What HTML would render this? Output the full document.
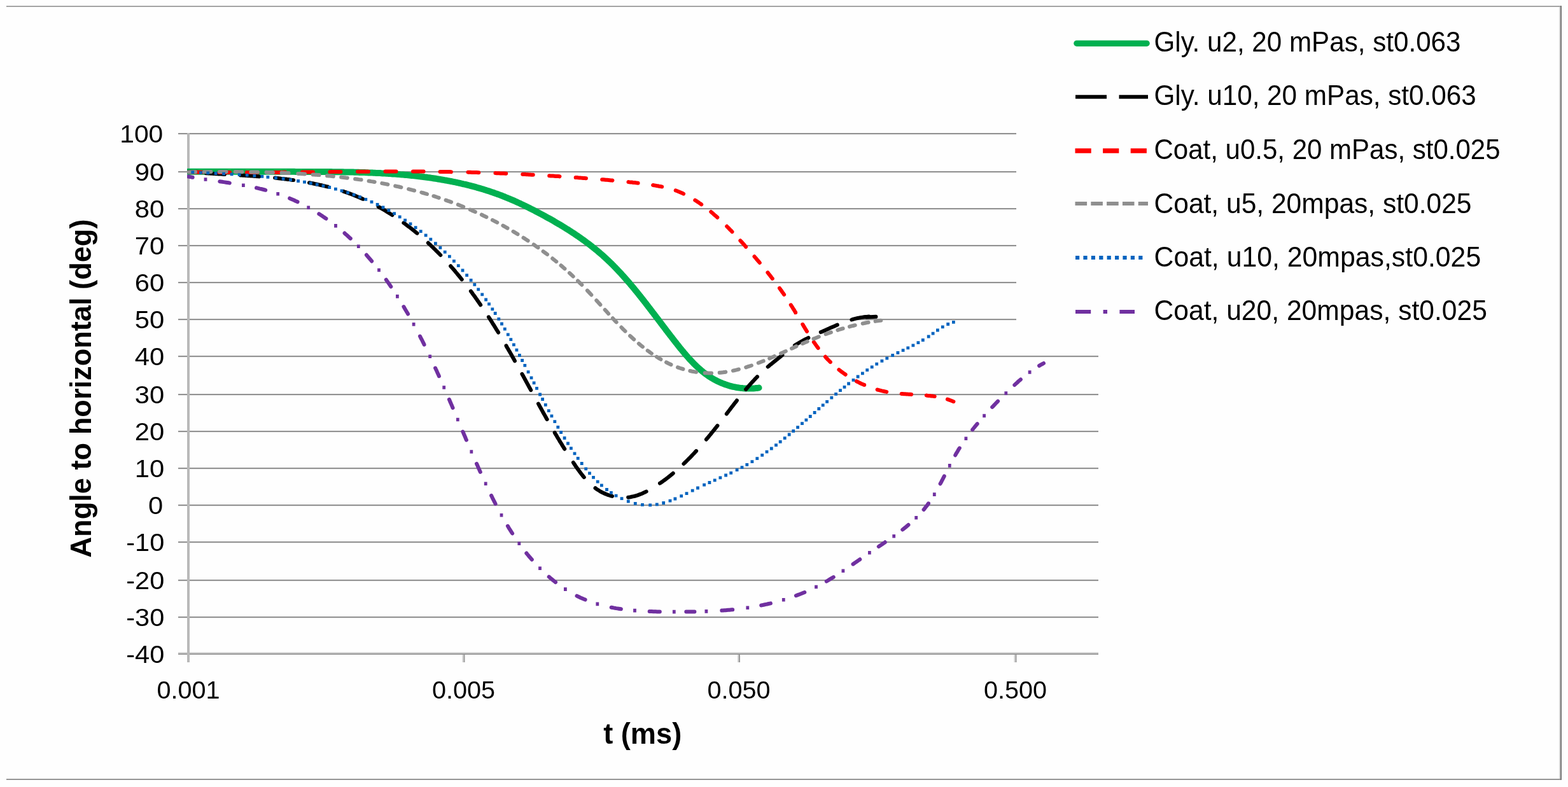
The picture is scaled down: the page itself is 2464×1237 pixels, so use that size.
<!DOCTYPE html><html><head><meta charset="utf-8"><title>Angle to horizontal vs t</title>
<style>html,body{margin:0;padding:0;background:#fff;overflow:hidden;}svg{display:block;}#w{width:2464px;height:1237px;}text{font-family:"Liberation Sans",Arial,sans-serif;fill:#000;}</style></head><body>
<div id="w"><svg width="2464" height="1237" viewBox="0 0 2464 1237">
<rect x="0" y="0" width="2464" height="1237" fill="#fefefe"/>
<rect x="10" y="9" width="2444" height="2" fill="#a3a3a3"/>
<rect x="10" y="1224" width="2444" height="2" fill="#959595"/>
<rect x="2450" y="11" width="2" height="1213" fill="#d4d4d4"/>
<rect x="2452" y="9" width="2" height="1217" fill="#777"/>
<rect x="280" y="209" width="1446" height="2" fill="#929292"/><rect x="280" y="211" width="1446" height="1" fill="#ececec"/><rect x="280" y="269" width="1446" height="2" fill="#929292"/><rect x="280" y="271" width="1446" height="1" fill="#ececec"/><rect x="280" y="327" width="1446" height="2" fill="#929292"/><rect x="280" y="329" width="1446" height="1" fill="#ececec"/><rect x="280" y="385" width="1446" height="2" fill="#929292"/><rect x="280" y="387" width="1446" height="1" fill="#ececec"/><rect x="280" y="443" width="1446" height="2" fill="#929292"/><rect x="280" y="445" width="1446" height="1" fill="#ececec"/><rect x="280" y="501" width="1446" height="2" fill="#929292"/><rect x="280" y="503" width="1446" height="1" fill="#ececec"/><rect x="280" y="559" width="1446" height="2" fill="#929292"/><rect x="280" y="561" width="1446" height="1" fill="#ececec"/><rect x="280" y="619" width="1446" height="2" fill="#929292"/><rect x="280" y="621" width="1446" height="1" fill="#ececec"/><rect x="280" y="677" width="1446" height="2" fill="#929292"/><rect x="280" y="679" width="1446" height="1" fill="#ececec"/><rect x="280" y="735" width="1446" height="2" fill="#929292"/><rect x="280" y="737" width="1446" height="1" fill="#ececec"/><rect x="280" y="793" width="1446" height="2" fill="#929292"/><rect x="280" y="795" width="1446" height="1" fill="#ececec"/><rect x="280" y="851" width="1446" height="2" fill="#929292"/><rect x="280" y="853" width="1446" height="1" fill="#ececec"/><rect x="280" y="911" width="1446" height="2" fill="#929292"/><rect x="280" y="913" width="1446" height="1" fill="#ececec"/><rect x="280" y="969" width="1446" height="2" fill="#929292"/><rect x="280" y="971" width="1446" height="1" fill="#ececec"/>
<rect x="280" y="1025" width="1446" height="2" fill="#d6d6d6"/>
<rect x="280" y="1027" width="1446" height="2" fill="#979797"/>
<rect x="726.5" y="1029" width="2" height="12" fill="#d0d0d0"/>
<rect x="728.5" y="1029" width="2" height="12" fill="#9a9a9a"/>
<rect x="1159.0" y="1029" width="2" height="12" fill="#d0d0d0"/>
<rect x="1161.0" y="1029" width="2" height="12" fill="#9a9a9a"/>
<rect x="1593.5" y="1029" width="2" height="12" fill="#d0d0d0"/>
<rect x="1595.5" y="1029" width="2" height="12" fill="#9a9a9a"/>
<rect x="294" y="209" width="4" height="832" fill="#b9b9b9"/>
<defs><clipPath id="pa"><rect x="294" y="150" width="1440" height="900"/></clipPath></defs><g clip-path="url(#pa)">
<path d="M296.00,269.7 L298.01,269.7 300.02,269.7 302.03,269.7 304.04,269.7 306.04,269.7 308.05,269.7 310.06,269.7 312.07,269.7 314.08,269.8 316.09,269.8 318.09,269.8 320.10,269.8 322.11,269.8 324.12,269.8 326.13,269.8 328.13,269.8 330.14,269.8 332.15,269.8 334.16,269.8 336.16,269.8 338.17,269.8 340.18,269.8 342.19,269.8 344.19,269.8 346.20,269.8 348.21,269.8 350.21,269.8 352.22,269.8 354.23,269.8 356.24,269.8 358.24,269.8 360.25,269.8 362.26,269.8 364.26,269.8 366.27,269.8 368.28,269.8 370.28,269.8 372.29,269.8 374.30,269.8 376.30,269.8 378.31,269.8 380.32,269.8 382.32,269.8 384.33,269.8 386.34,269.8 388.34,269.8 390.35,269.8 392.36,269.8 394.36,269.8 396.37,269.8 398.38,269.8 400.38,269.8 402.39,269.8 404.40,269.8 406.40,269.8 408.41,269.8 410.41,269.8 412.42,269.8 414.43,269.8 416.43,269.8 418.44,269.8 420.45,269.8 422.45,269.8 424.46,269.8 426.47,269.8 428.47,269.8 430.48,269.8 432.49,269.8 434.49,269.8 436.50,269.8 438.51,269.8 440.51,269.8 442.52,269.8 444.53,269.8 446.53,269.8 448.54,269.8 450.55,269.8 452.55,269.8 454.56,269.8 456.57,269.8 458.57,269.8 460.58,269.8 462.59,269.8 464.60,269.9 466.60,269.9 468.61,269.9 470.62,269.9 472.62,269.9 474.63,269.9 476.64,269.9 478.65,269.9 480.65,269.9 482.66,269.9 484.67,269.9 486.68,269.9 488.68,269.9 490.69,269.9 492.70,269.9 494.71,270.0 496.72,270.0 498.72,270.0 500.73,270.0 502.74,270.0 504.75,270.0 506.76,270.0 508.76,270.0 510.77,270.1 512.78,270.1 514.79,270.1 516.80,270.1 518.81,270.1 520.82,270.1 522.82,270.2 524.83,270.2 526.84,270.2 528.85,270.2 530.86,270.2 532.87,270.3 534.87,270.3 536.88,270.3 538.89,270.3 540.90,270.4 542.91,270.4 544.92,270.4 546.92,270.5 548.93,270.5 550.94,270.6 552.95,270.6 554.95,270.6 556.96,270.7 558.97,270.7 560.98,270.8 562.98,270.8 564.99,270.9 567.00,271.0 569.00,271.0 571.01,271.1 573.02,271.1 575.02,271.2 577.03,271.3 579.04,271.4 581.04,271.4 583.05,271.5 585.05,271.6 587.06,271.7 589.06,271.8 591.07,271.9 593.07,271.9 595.07,272.0 597.08,272.1 599.08,272.3 601.09,272.4 603.09,272.5 605.09,272.6 607.09,272.7 609.10,272.8 611.10,273.0 613.10,273.1 615.10,273.2 617.10,273.4 619.10,273.5 621.10,273.6 623.10,273.8 625.10,273.9 627.10,274.1 629.10,274.3 631.10,274.4 633.10,274.6 635.10,274.8 637.09,275.0 639.09,275.1 641.09,275.3 643.08,275.5 645.08,275.7 647.08,275.9 649.07,276.1 651.07,276.4 653.06,276.6 655.05,276.8 657.05,277.0 659.04,277.3 661.03,277.5 663.02,277.8 665.02,278.0 667.01,278.3 669.00,278.5 670.99,278.8 672.98,279.1 674.97,279.3 676.95,279.6 678.94,279.9 680.93,280.2 682.92,280.5 684.90,280.8 686.89,281.1 688.87,281.5 690.86,281.8 692.84,282.1 694.83,282.5 696.81,282.8 698.79,283.2 700.77,283.5 702.75,283.9 704.73,284.3 706.70,284.6 708.68,285.0 710.66,285.4 712.63,285.8 714.60,286.2 716.57,286.6 718.54,287.0 720.51,287.5 722.47,287.9 724.44,288.4 726.40,288.8 728.36,289.3 730.32,289.7 732.27,290.2 734.22,290.7 736.18,291.2 738.13,291.6 740.07,292.1 742.02,292.7 743.96,293.2 745.90,293.7 747.84,294.2 749.77,294.8 751.70,295.3 753.63,295.9 755.56,296.4 757.48,297.0 759.40,297.6 761.32,298.2 763.23,298.8 765.14,299.4 767.05,300.0 768.95,300.6 770.85,301.3 772.75,301.9 774.64,302.5 776.53,303.2 778.42,303.9 780.30,304.5 782.18,305.2 784.05,305.9 785.92,306.6 787.79,307.3 789.65,308.0 791.51,308.8 793.37,309.5 795.22,310.3 797.06,311.0 798.91,311.8 800.75,312.5 802.58,313.3 804.42,314.1 806.25,314.9 808.07,315.7 809.90,316.5 811.72,317.3 813.54,318.2 815.35,319.0 817.16,319.8 818.97,320.7 820.78,321.5 822.58,322.4 824.38,323.3 826.18,324.1 827.98,325.0 829.78,325.9 831.57,326.8 833.36,327.7 835.15,328.6 836.93,329.5 838.72,330.4 840.50,331.3 842.28,332.3 844.07,333.2 845.84,334.1 847.62,335.1 849.40,336.0 851.17,337.0 852.95,337.9 854.72,338.9 856.49,339.8 858.26,340.8 860.02,341.8 861.79,342.8 863.55,343.7 865.31,344.7 867.07,345.7 868.83,346.7 870.58,347.7 872.33,348.8 874.08,349.8 875.83,350.8 877.57,351.8 879.31,352.8 881.04,353.9 882.78,354.9 884.50,356.0 886.23,357.0 887.95,358.1 889.67,359.2 891.38,360.2 893.09,361.3 894.79,362.4 896.49,363.5 898.19,364.6 899.88,365.7 901.57,366.8 903.25,367.9 904.92,369.1 906.59,370.2 908.26,371.3 909.92,372.5 911.57,373.6 913.22,374.8 914.86,376.0 916.50,377.1 918.13,378.3 919.75,379.5 921.37,380.7 922.98,381.9 924.59,383.1 926.19,384.3 927.78,385.5 929.36,386.8 930.94,388.0 932.51,389.3 934.07,390.5 935.62,391.8 937.17,393.0 938.71,394.3 940.24,395.6 941.76,396.9 943.28,398.2 944.78,399.5 946.28,400.8 947.77,402.1 949.25,403.5 950.73,404.8 952.19,406.2 953.65,407.5 955.10,408.9 956.54,410.3 957.98,411.6 959.41,413.0 960.83,414.4 962.24,415.8 963.65,417.2 965.05,418.7 966.44,420.1 967.83,421.5 969.21,422.9 970.58,424.4 971.95,425.8 973.31,427.3 974.67,428.7 976.02,430.2 977.36,431.7 978.70,433.1 980.03,434.6 981.36,436.1 982.68,437.6 984.00,439.1 985.31,440.6 986.62,442.1 987.93,443.6 989.22,445.1 990.52,446.7 991.81,448.2 993.09,449.7 994.38,451.2 995.65,452.8 996.93,454.3 998.20,455.9 999.47,457.4 1000.73,459.0 1001.99,460.5 1003.25,462.1 1004.50,463.7 1005.75,465.2 1007.00,466.8 1008.25,468.4 1009.49,470.0 1010.73,471.5 1011.97,473.1 1013.21,474.7 1014.44,476.3 1015.67,477.9 1016.91,479.5 1018.14,481.1 1019.36,482.7 1020.59,484.3 1021.81,485.9 1023.04,487.5 1024.26,489.1 1025.48,490.7 1026.70,492.3 1027.93,493.9 1029.15,495.5 1030.37,497.1 1031.58,498.7 1032.80,500.3 1034.02,501.9 1035.24,503.5 1036.46,505.2 1037.68,506.8 1038.90,508.4 1040.12,510.0 1041.35,511.6 1042.57,513.2 1043.79,514.8 1045.02,516.4 1046.25,518.1 1047.47,519.7 1048.70,521.3 1049.93,522.9 1051.17,524.5 1052.40,526.1 1053.64,527.7 1054.88,529.3 1056.12,530.9 1057.36,532.5 1058.61,534.1 1059.85,535.7 1061.11,537.3 1062.36,538.9 1063.62,540.5 1064.88,542.1 1066.14,543.7 1067.41,545.3 1068.68,546.9 1069.96,548.4 1071.24,550.0 1072.53,551.6 1073.82,553.1 1075.12,554.7 1076.42,556.2 1077.74,557.8 1079.06,559.3 1080.39,560.8 1081.72,562.3 1083.07,563.8 1084.42,565.3 1085.78,566.7 1087.16,568.2 1088.54,569.6 1089.94,571.1 1091.34,572.5 1092.76,573.9 1094.18,575.3 1095.63,576.6 1097.08,578.0 1098.54,579.3 1100.02,580.6 1101.52,581.9 1103.02,583.1 1104.54,584.4 1106.08,585.6 1107.63,586.8 1109.20,588.0 1110.78,589.1 1112.38,590.3 1114.00,591.4 1115.63,592.4 1117.29,593.5 1118.96,594.5 1120.64,595.5 1122.35,596.5 1124.08,597.4 1125.82,598.3 1127.58,599.2 1129.36,600.0 1131.16,600.9 1132.97,601.6 1134.80,602.4 1136.64,603.1 1138.50,603.8 1140.37,604.5 1142.26,605.1 1144.16,605.7 1146.07,606.3 1147.99,606.8 1149.93,607.3 1151.88,607.8 1153.84,608.2 1155.81,608.6 1157.79,609.0 1159.78,609.3 1161.77,609.6 1163.78,609.9 1165.79,610.1 1167.82,610.3 1169.85,610.4 1171.88,610.5 1173.93,610.6 1175.97,610.6 1178.03,610.6 1180.09,610.6 1182.15,610.5 1184.21,610.4 1186.28,610.3 1188.36,610.1 1190.43,609.9 1192.51,609.6" fill="none" stroke="#00b050" stroke-width="10" stroke-linecap="round" stroke-linejoin="round"/>
<path d="M296.0,270.2 L297.5,270.3 L298.7,270.4 M323.6,272.2 L325.4,272.3 L327.4,272.4 L329.3,272.6 L331.3,272.7 L333.3,272.8 L335.3,272.9 L337.3,273.1 L339.3,273.2 L341.3,273.3 L343.3,273.4 L345.3,273.5 L347.3,273.6 L349.3,273.7 L351.3,273.9 L352.9,274.0 M377.9,275.4 L379.9,275.5 L381.9,275.7 L383.9,275.8 L385.9,275.9 L387.9,276.0 L389.9,276.2 L392.0,276.3 L394.0,276.5 L396.0,276.6 L398.0,276.7 L400.0,276.9 L402.0,277.0 L404.1,277.2 L406.1,277.3 L407.2,277.4 M432.1,279.6 L433.8,279.8 L435.8,280.0 L437.8,280.2 L439.8,280.4 L441.8,280.7 L443.8,280.9 L445.8,281.1 L447.8,281.4 L449.8,281.6 L451.8,281.9 L453.8,282.1 L455.8,282.4 L457.8,282.7 L459.8,282.9 L461.2,283.1 M485.9,287.2 L487.6,287.5 L489.6,287.9 L491.5,288.3 L493.5,288.7 L495.4,289.1 L497.4,289.5 L499.4,289.9 L501.3,290.3 L503.3,290.8 L505.2,291.2 L507.1,291.7 L509.1,292.1 L511.0,292.6 L513.0,293.1 L514.9,293.6 L515.1,293.6 M539.8,300.9 L541.6,301.5 L543.4,302.1 L545.3,302.8 L547.2,303.5 L549.1,304.1 L550.9,304.8 L552.8,305.5 L554.6,306.2 L556.5,307.0 L558.3,307.7 L560.2,308.5 L562.0,309.2 L563.8,310.0 L565.7,310.8 L567.5,311.6 L569.3,312.4 L570.3,312.8 M594.6,324.9 L596.0,325.8 L597.8,326.7 L599.5,327.7 L601.2,328.7 L603.0,329.7 L604.7,330.7 L606.4,331.8 L608.1,332.8 L609.8,333.8 L611.5,334.9 L613.2,336.0 L614.9,337.0 L616.4,338.0 M634.4,350.3 L635.6,351.2 L637.2,352.4 L638.8,353.6 L640.4,354.8 L642.0,356.0 L643.6,357.2 L645.2,358.4 L646.8,359.7 L648.4,360.9 L649.9,362.2 L651.5,363.4 L653.0,364.7 L654.6,366.0 L655.5,366.7 M672.8,381.8 L674.2,383.2 L675.7,384.5 L677.1,385.9 L678.6,387.3 L680.0,388.7 L681.4,390.1 L682.9,391.5 L684.3,392.9 L685.7,394.3 L687.1,395.7 L688.5,397.1 L689.9,398.5 L691.3,400.0 L692.3,401.0 M708.1,418.2 L709.2,419.5 L710.6,421.0 L711.9,422.5 L713.2,424.0 L714.5,425.5 L715.7,427.1 L717.0,428.6 L718.3,430.1 L719.6,431.7 L720.9,433.2 L722.1,434.8 L723.4,436.3 L724.6,437.9 L725.7,439.2 M739.9,457.7 L740.8,458.9 L742.0,460.5 L743.1,462.2 L744.3,463.8 L745.5,465.4 L746.7,467.0 L747.8,468.7 L749.0,470.3 L750.1,472.0 L751.3,473.6 L752.4,475.2 L753.6,476.9 L754.7,478.5 L755.2,479.3 M767.9,498.3 L768.9,499.8 L769.9,501.5 L771.0,503.2 L772.1,504.9 L773.2,506.6 L774.2,508.3 L775.3,510.0 L776.4,511.7 L777.4,513.4 L778.5,515.1 L779.5,516.8 L780.6,518.5 L781.6,520.2 L782.7,521.9 L783.1,522.6 M795.5,543.5 L796.4,545.2 L797.4,546.9 L798.4,548.6 L799.4,550.4 L800.4,552.1 L801.4,553.8 L802.4,555.6 L803.4,557.3 L804.4,559.0 L805.3,560.8 L806.3,562.5 L807.3,564.2 L808.3,566.0 L809.0,567.3 M820.4,587.9 L821.3,589.5 L822.3,591.2 L823.2,593.0 L824.2,594.7 L825.1,596.5 L826.1,598.2 L827.0,600.0 L828.0,601.7 L828.9,603.5 L829.9,605.2 L830.8,607.0 L831.8,608.7 L832.8,610.5 L833.7,612.2 L834.2,613.2 M846.0,634.6 L846.9,636.2 L847.8,638.0 L848.8,639.7 L849.8,641.5 L850.7,643.2 L851.7,645.0 L852.7,646.7 L853.6,648.5 L854.6,650.2 L855.6,651.9 L856.6,653.7 L857.6,655.4 L858.5,657.2 L859.5,658.9 L859.6,659.1 M871.7,680.0 L872.5,681.5 L873.5,683.2 L874.6,684.9 L875.6,686.7 L876.6,688.4 L877.7,690.1 L878.7,691.8 L879.7,693.6 L880.8,695.3 L881.8,697.0 L882.9,698.7 L883.9,700.4 L885.0,702.2 L886.1,703.9 L887.1,705.6 L887.2,705.7 M900.9,727.0 L901.9,728.6 L903.1,730.3 L904.2,732.0 L905.4,733.7 L906.5,735.3 L907.7,737.0 L908.9,738.6 L910.1,740.3 L911.3,741.9 L912.5,743.5 L913.7,745.1 L915.0,746.7 L916.2,748.3 L917.5,749.8 L917.8,750.2 M935.5,767.1 L936.7,768.1 L938.3,769.2 L940.0,770.3 L941.6,771.3 L943.3,772.3 L945.0,773.3 L946.8,774.2 L948.6,775.0 L950.4,775.9 L952.2,776.6 L954.1,777.4 L956.0,778.1 L957.9,778.7 L959.8,779.3 L961.8,779.8 L962.0,779.9 M987.1,781.7 L988.7,781.5 L990.7,781.2 L992.6,780.8 L994.5,780.4 L996.4,780.0 L998.4,779.5 L1000.3,778.9 L1002.1,778.3 L1004.0,777.6 L1005.9,776.9 L1007.7,776.2 L1009.6,775.4 L1011.4,774.6 L1013.2,773.8 L1015.0,772.9 L1015.6,772.6 M1037.0,759.6 L1038.4,758.7 L1040.1,757.5 L1041.7,756.4 L1043.3,755.2 L1045.0,754.0 L1046.6,752.8 L1048.2,751.5 L1049.8,750.3 L1051.3,749.1 L1052.9,747.8 L1054.5,746.6 L1056.0,745.3 L1057.6,744.0 L1057.7,743.9 M1074.4,729.0 L1075.7,727.7 L1077.2,726.3 L1078.6,724.9 L1080.0,723.5 L1081.4,722.1 L1082.8,720.7 L1084.2,719.3 L1085.6,717.9 L1087.0,716.4 L1088.3,715.0 L1089.7,713.5 L1091.1,712.1 L1092.4,710.6 L1093.8,709.2 L1094.1,708.8 M1109.9,690.7 L1111.1,689.2 L1112.4,687.7 L1113.7,686.2 L1114.9,684.6 L1116.2,683.1 L1117.5,681.5 L1118.7,680.0 L1120.0,678.4 L1121.2,676.9 L1122.5,675.3 L1123.7,673.7 L1125.0,672.2 L1126.2,670.6 L1127.4,669.1 M1141.8,650.5 L1142.7,649.2 L1144.0,647.6 L1145.2,646.0 L1146.4,644.5 L1147.6,642.9 L1148.8,641.3 L1150.0,639.7 L1151.3,638.1 L1152.5,636.5 L1153.7,634.9 L1154.9,633.3 L1156.2,631.8 L1157.4,630.2 L1157.9,629.5 M1172.1,612.0 L1173.1,610.8 L1174.4,609.3 L1175.7,607.8 L1177.0,606.3 L1178.3,604.8 L1179.6,603.3 L1181.0,601.8 L1182.3,600.3 L1183.7,598.9 L1185.0,597.4 L1186.4,595.9 L1187.7,594.5 L1189.1,593.1 L1190.0,592.2 M1206.7,576.5 L1208.1,575.4 L1209.6,574.1 L1211.1,572.8 L1212.7,571.6 L1214.2,570.3 L1215.7,569.1 L1217.3,567.8 L1218.8,566.6 L1220.4,565.3 L1222.0,564.1 L1223.5,562.8 L1225.0,561.6 L1226.6,560.4 L1228.1,559.1 L1229.5,558.0 M1248.9,543.0 L1250.3,542.0 L1251.9,541.0 L1253.6,540.0 L1255.3,539.0 L1257.0,538.0 L1258.7,537.0 L1260.4,536.1 L1262.2,535.1 L1263.9,534.2 L1265.7,533.3 L1267.4,532.5 L1269.2,531.6 L1270.4,531.0 M1289.8,522.1 L1291.5,521.4 L1293.4,520.5 L1295.2,519.7 L1297.0,518.9 L1298.9,518.1 L1300.7,517.2 L1302.6,516.4 L1304.4,515.6 L1306.2,514.8 L1308.1,514.0 L1309.9,513.2 L1311.8,512.4 L1313.6,511.6 L1315.5,510.8 L1315.8,510.7 M1338.4,502.5 L1340.3,501.9 L1342.2,501.4 L1344.1,500.9 L1346.0,500.4 L1347.9,500.0 L1349.9,499.6 L1351.8,499.2 L1353.8,498.9 L1355.7,498.6 L1357.7,498.3 L1359.7,498.1 L1361.7,497.9 L1363.7,497.7 L1365.4,497.6" fill="none" stroke="#000" stroke-width="6" stroke-linecap="round"/>
<path d="M1362,498.6 L1376.4,497.8" fill="none" stroke="#000" stroke-width="6" stroke-linecap="round"/>
<path d="M300.7,270.5 L302.5,270.5 L304.5,270.5 L306.5,270.6 L308.5,270.6 L310.5,270.6 L312.5,270.7 L314.5,270.7 L316.5,270.7 L317.7,270.7 M344.2,271.0 L346.0,271.0 L348.0,271.0 L350.0,271.0 L352.0,271.0 L354.0,271.1 L356.0,271.1 L358.0,271.1 L360.0,271.1 L361.2,271.1 M387.8,271.1 L389.5,271.1 L391.5,271.1 L393.5,271.1 L395.5,271.1 L397.5,271.1 L399.5,271.1 L401.5,271.1 L403.5,271.1 L404.8,271.1 M431.3,270.9 L433.0,270.9 L435.1,270.9 L437.1,270.9 L439.1,270.9 L441.1,270.9 L443.1,270.9 L445.1,270.8 L447.1,270.8 L448.3,270.8 M474.9,270.6 L476.6,270.6 L478.6,270.5 L480.6,270.5 L482.6,270.5 L484.6,270.5 L486.6,270.5 L488.6,270.5 L490.6,270.4 L491.9,270.4 M518.4,270.2 L520.2,270.1 L522.2,270.1 L524.2,270.1 L526.2,270.1 L528.2,270.1 L530.2,270.0 L532.2,270.0 L534.2,270.0 L535.4,270.0 M562.0,269.8 L563.7,269.8 L565.7,269.7 L567.7,269.7 L569.7,269.7 L571.7,269.7 L573.7,269.7 L575.7,269.7 L577.7,269.7 L579.0,269.7 M605.5,269.5 L607.3,269.5 L609.3,269.5 L611.3,269.5 L613.3,269.5 L615.3,269.5 L617.3,269.5 L619.3,269.5 L621.3,269.5 L622.5,269.5 M649.0,269.5 L650.8,269.5 L652.8,269.6 L654.8,269.6 L656.8,269.6 L658.8,269.6 L660.8,269.6 L662.8,269.6 L664.8,269.6 L665.6,269.6 M691.6,269.9 L693.3,269.9 L695.3,269.9 L697.3,270.0 L699.3,270.0 L701.3,270.0 L703.3,270.1 L705.3,270.1 L707.3,270.1 L708.8,270.2 M735.5,270.7 L737.3,270.8 L739.3,270.8 L741.3,270.9 L743.3,270.9 L745.3,271.0 L747.3,271.1 L749.3,271.1 L751.3,271.2 L752.3,271.2 M778.5,272.1 L780.3,272.2 L782.3,272.2 L784.2,272.3 L786.2,272.4 L788.2,272.5 L790.2,272.5 L792.2,272.6 L794.2,272.7 L795.2,272.8 M821.3,273.9 L823.2,274.0 L825.2,274.1 L827.2,274.2 L829.2,274.3 L831.2,274.4 L833.2,274.5 L835.2,274.7 L837.2,274.8 L837.7,274.8 M863.2,276.2 L865.1,276.4 L867.1,276.5 L869.1,276.6 L871.1,276.7 L873.1,276.9 L875.1,277.0 L877.1,277.1 L879.1,277.2 L879.4,277.3 M904.7,279.0 L906.6,279.1 L908.6,279.3 L910.6,279.4 L912.6,279.6 L914.6,279.7 L916.6,279.9 L918.6,280.0 L920.6,280.2 L920.9,280.2 M946.2,282.2 L948.1,282.3 L950.1,282.5 L952.1,282.7 L954.1,282.8 L956.1,283.0 L958.1,283.2 L960.1,283.4 L962.1,283.5 L962.4,283.6 M987.4,286.0 L989.0,286.2 L991.0,286.4 L993.0,286.6 L995.0,286.9 L997.0,287.1 L999.0,287.3 L1001.0,287.6 L1002.6,287.8 M1026.1,291.0 L1027.8,291.3 L1029.8,291.6 L1031.8,292.0 L1033.7,292.3 L1035.7,292.7 L1037.7,293.0 L1039.6,293.4 L1040.2,293.5 M1061.7,299.4 L1063.5,300.0 L1065.3,300.7 L1067.1,301.4 L1068.9,302.2 L1070.7,303.0 L1072.5,303.8 L1074.1,304.6 M1092.3,314.7 L1093.7,315.6 L1095.3,316.6 L1097.0,317.7 L1098.6,318.9 L1100.3,320.0 L1101.9,321.1 L1102.2,321.4 M1117.3,333.0 L1118.8,334.3 L1120.3,335.6 L1121.8,336.9 L1123.3,338.2 L1124.8,339.5 L1126.3,340.8 L1127.3,341.7 M1142.2,355.8 L1143.4,357.0 L1144.8,358.4 L1146.2,359.9 L1147.6,361.3 L1149.0,362.7 L1150.4,364.2 L1150.5,364.3 M1163.4,378.2 L1164.7,379.6 L1166.1,381.1 L1167.4,382.6 L1168.8,384.1 L1170.1,385.6 L1171.4,387.1 L1172.1,387.9 M1185.5,403.3 L1186.5,404.4 L1187.8,405.9 L1189.1,407.5 L1190.4,409.0 L1191.7,410.5 L1193.0,412.0 L1193.8,413.0 M1206.4,428.4 L1207.4,429.7 L1208.7,431.3 L1209.9,432.8 L1211.1,434.4 L1212.3,436.0 L1213.5,437.5 L1213.8,437.9 M1225.0,453.0 L1226.0,454.3 L1227.1,455.9 L1228.3,457.5 L1229.4,459.2 L1230.6,460.8 L1231.7,462.4 L1232.1,463.0 M1242.8,479.3 L1243.8,480.8 L1244.9,482.5 L1245.9,484.3 L1247.0,486.0 L1248.1,487.7 L1249.1,489.4 L1250.1,491.2 L1250.2,491.2 M1261.3,509.8 L1262.1,511.1 L1263.1,512.9 L1264.2,514.6 L1265.2,516.3 L1266.3,518.0 L1267.3,519.8 L1268.0,520.9 M1278.9,537.7 L1279.9,539.1 L1281.1,540.8 L1282.3,542.4 L1283.4,544.0 L1284.6,545.6 L1285.6,547.0 M1297.0,560.8 L1298.2,562.2 L1299.5,563.6 L1300.9,565.1 L1302.3,566.5 L1303.7,567.9 L1304.9,569.1 M1318.4,581.1 L1319.6,582.0 L1321.2,583.3 L1322.7,584.5 L1324.3,585.6 L1325.9,586.8 L1327.6,587.9 L1328.6,588.7 M1345.8,599.2 L1347.4,600.0 L1349.2,600.9 L1350.9,601.8 L1352.7,602.7 L1354.5,603.5 L1356.3,604.3 L1358.1,605.1 L1358.2,605.1 M1378.6,612.5 L1380.1,612.9 L1382.0,613.4 L1384.0,613.9 L1385.9,614.4 L1387.9,614.8 L1389.8,615.2 L1391.8,615.6 L1393.2,615.9 M1416.7,618.9 L1418.3,619.0 L1420.3,619.2 L1422.3,619.3 L1424.4,619.4 L1426.4,619.6 L1428.4,619.7 L1430.5,619.8 L1432.1,619.9 M1455.8,621.5 L1457.3,621.7 L1459.3,621.9 L1461.3,622.1 L1463.3,622.4 L1465.3,622.6 L1467.3,622.9 L1468.7,623.1 M1488.9,627.7 L1490.5,628.2 L1492.4,628.9 L1494.2,629.5 L1496.1,630.3 L1497.9,631.0 L1498.4,631.2" fill="none" stroke="#ff0000" stroke-width="6" stroke-linecap="round"/>
<path d="M296.3,270.4 L298.0,270.4 L300.0,270.4 L301.9,270.4 L303.9,270.3 L305.9,270.3 L307.1,270.3 M320.8,270.2 L322.7,270.2 L324.7,270.2 L326.7,270.2 L328.7,270.2 L330.7,270.1 L331.5,270.1 M344.9,270.1 L346.6,270.1 L348.6,270.1 L350.6,270.1 L352.6,270.1 L354.6,270.1 L355.6,270.1 M369.6,270.1 L371.6,270.1 L373.6,270.1 L375.6,270.2 L377.6,270.2 L379.6,270.2 L380.5,270.2 M394.3,270.4 L396.2,270.4 L398.2,270.4 L400.2,270.5 L402.2,270.5 L404.2,270.5 L405.0,270.5 M418.5,270.8 L420.3,270.9 L422.3,271.0 L424.3,271.0 L426.3,271.1 L428.3,271.1 L429.1,271.2 M442.6,271.6 L444.4,271.7 L446.4,271.8 L448.4,271.9 L450.4,272.0 L452.4,272.0 L453.6,272.1 M468.3,272.9 L470.0,273.0 L472.0,273.1 L474.0,273.2 L476.0,273.3 L478.0,273.4 L479.0,273.5 M491.6,274.4 L493.6,274.5 L495.6,274.7 L497.6,274.8 L499.6,275.0 L501.5,275.1 M514.1,276.3 L516.1,276.4 L518.1,276.6 L520.1,276.8 L522.1,277.0 L523.9,277.2 M536.2,278.5 L538.0,278.7 L540.0,279.0 L542.0,279.2 L544.0,279.5 L545.8,279.7 M558.1,281.3 L559.9,281.5 L561.9,281.8 L563.9,282.1 L565.9,282.4 L567.6,282.6 M579.5,284.5 L581.2,284.7 L583.2,285.1 L585.1,285.4 L587.1,285.7 L588.7,286.0 M600.3,288.1 L601.8,288.4 L603.8,288.8 L605.8,289.1 L607.7,289.5 L609.4,289.9 M621.2,292.3 L622.9,292.7 L624.8,293.1 L626.8,293.5 L628.7,294.0 L630.4,294.4 M642.1,297.2 L643.7,297.6 L645.7,298.1 L647.6,298.6 L649.5,299.1 L651.1,299.5 M662.4,302.5 L664.0,303.0 L665.9,303.5 L667.8,304.1 L669.7,304.6 L671.0,305.0 M681.4,308.2 L683.1,308.7 L685.0,309.3 L686.9,310.0 L688.8,310.6 L689.7,310.9 M700.6,314.6 L702.0,315.1 L703.9,315.8 L705.8,316.4 L707.6,317.1 L709.1,317.6 M719.8,321.7 L721.2,322.2 L723.1,323.0 L724.9,323.7 L726.8,324.5 L728.2,325.0 M738.8,329.5 L740.2,330.1 L742.0,330.9 L743.8,331.7 L745.6,332.5 L746.8,333.0 M756.8,337.5 L758.4,338.3 L760.2,339.2 L762.0,340.0 L763.8,340.9 L764.4,341.2 M773.9,345.9 L775.4,346.7 L777.2,347.6 L779.0,348.5 L780.8,349.5 L781.3,349.7 M790.4,354.6 L791.8,355.4 L793.5,356.4 L795.3,357.3 L797.0,358.3 L797.5,358.6 M806.5,363.8 L807.8,364.6 L809.5,365.6 L811.2,366.7 L812.9,367.7 L813.5,368.1 M822.5,373.7 L824.0,374.6 L825.6,375.7 L827.3,376.8 L829.0,377.9 L829.6,378.3 M838.7,384.4 L840.2,385.5 L841.8,386.6 L843.4,387.8 L845.1,388.9 L845.5,389.2 M853.6,395.1 L855.2,396.3 L856.8,397.5 L858.4,398.7 L860.0,399.9 L860.0,399.9 M868.2,406.3 L869.4,407.3 L871.0,408.5 L872.5,409.8 L874.1,411.1 L874.3,411.2 M881.6,417.3 L882.9,418.4 L884.4,419.7 L885.9,421.1 L887.4,422.3 M894.9,429.1 L896.4,430.4 L897.8,431.8 L899.3,433.1 L900.7,434.5 M908.0,441.5 L909.4,442.8 L910.8,444.3 L912.3,445.7 L913.7,447.1 L914.3,447.7 M922.9,456.6 L924.1,457.9 L925.5,459.4 L926.9,460.9 L928.2,462.3 L929.3,463.5 M937.3,472.2 L938.4,473.4 L939.8,474.9 L941.1,476.4 L942.5,477.9 L943.4,478.9 M950.7,487.0 L951.9,488.3 L953.3,489.8 L954.6,491.3 L956.0,492.8 L956.2,493.1 M962.9,500.3 L964.2,501.7 L965.5,503.1 L966.9,504.6 L968.3,506.1 L968.6,506.4 M976.4,514.5 L977.7,515.8 L979.1,517.3 L980.5,518.7 L982.0,520.1 L982.5,520.6 M990.1,528.0 L991.4,529.1 L992.9,530.5 L994.3,531.8 L995.8,533.2 L996.2,533.5 M1003.8,540.1 L1005.3,541.4 L1006.9,542.7 L1008.4,544.0 L1009.9,545.1 M1017.7,551.1 L1019.2,552.2 L1020.9,553.4 L1022.5,554.6 L1023.9,555.6 M1031.9,560.8 L1033.4,561.8 L1035.1,562.8 L1036.8,563.8 L1038.4,564.8 M1047.0,569.5 L1048.6,570.3 L1050.4,571.2 L1052.2,572.0 L1054.0,572.9 L1054.5,573.1 M1065.0,577.4 L1066.4,577.9 L1068.2,578.5 L1070.1,579.1 L1072.0,579.7 L1073.4,580.2 M1084.3,583.0 L1085.8,583.3 L1087.7,583.7 L1089.6,584.0 L1091.6,584.4 L1093.5,584.7 L1094.0,584.8 M1107.7,586.2 L1109.6,586.3 L1111.6,586.3 L1113.6,586.4 L1115.5,586.4 L1117.5,586.4 L1118.0,586.4 M1130.7,585.8 L1132.2,585.7 L1134.2,585.5 L1136.1,585.3 L1138.1,585.0 L1140.0,584.8 L1140.2,584.7 M1151.9,582.6 L1153.6,582.3 L1155.5,581.8 L1157.4,581.4 L1159.4,580.9 L1160.9,580.5 M1172.2,577.3 L1173.7,576.8 L1175.6,576.2 L1177.5,575.6 L1179.4,575.0 L1180.9,574.5 M1191.7,570.5 L1193.6,569.8 L1195.5,569.0 L1197.4,568.3 L1199.3,567.5 L1199.7,567.4 M1209.2,563.4 L1211.0,562.6 L1212.9,561.8 L1214.8,561.0 L1216.6,560.2 L1216.9,560.0 M1227.1,555.5 L1228.8,554.7 L1230.6,553.9 L1232.5,553.0 L1234.3,552.2 L1234.8,552.0 M1244.1,547.7 L1245.9,546.9 L1247.8,546.0 L1249.6,545.2 L1251.5,544.3 L1251.5,544.3 M1261.1,540.0 L1262.6,539.4 L1264.4,538.6 L1266.3,537.7 L1268.1,537.0 L1268.7,536.7 M1278.5,532.6 L1280.1,531.9 L1281.9,531.2 L1283.8,530.5 L1285.6,529.7 L1286.7,529.3 M1297.5,525.2 L1299.1,524.7 L1300.9,524.0 L1302.8,523.4 L1304.6,522.7 L1305.9,522.3 M1316.4,518.8 L1318.2,518.2 L1320.1,517.7 L1322.0,517.1 L1323.8,516.5 L1324.6,516.3 M1335.0,513.4 L1336.7,512.9 L1338.6,512.4 L1340.5,512.0 L1342.4,511.5 L1343.7,511.2 M1355.7,508.5 L1357.4,508.1 L1359.4,507.7 L1361.4,507.3 L1363.4,506.9 L1364.7,506.7 M1375.6,504.9 L1377.3,504.6 L1379.3,504.3 L1381.4,504.0 L1383.4,503.8 L1384.3,503.7" fill="none" stroke="#8f8f8f" stroke-width="6" stroke-linecap="round"/>
<path d="M300.4,268.3h4.8v4.8h-4.8z M313.1,268.9h4.8v4.8h-4.8z M324.4,269.5h4.8v4.8h-4.8z M336.7,270.1h4.8v4.8h-4.8z M349.2,270.7h4.8v4.8h-4.8z M361.7,271.4h4.8v4.8h-4.8z M373.7,272.2h4.8v4.8h-4.8z M385.8,273.0h4.8v4.8h-4.8z M397.4,273.9h4.8v4.8h-4.8z M409.5,275.0h4.8v4.8h-4.8z M418.5,275.9h4.8v4.8h-4.8z M431.1,277.2h4.8v4.8h-4.8z M442.7,278.6h4.8v4.8h-4.8z M454.2,280.2h4.8v4.8h-4.8z M466.2,282.1h4.8v4.8h-4.8z M476.1,283.7h4.8v4.8h-4.8z M486.0,285.6h4.8v4.8h-4.8z M495.8,287.6h4.8v4.8h-4.8z M505.6,289.8h4.8v4.8h-4.8z M515.3,292.1h4.8v4.8h-4.8z M525.0,294.7h4.8v4.8h-4.8z M534.6,297.5h4.8v4.8h-4.8z M544.2,300.5h4.8v4.8h-4.8z M553.7,303.7h4.8v4.8h-4.8z M563.1,307.2h4.8v4.8h-4.8z M572.4,310.9h4.8v4.8h-4.8z M581.6,314.9h4.8v4.8h-4.8z M590.7,319.1h4.8v4.8h-4.8z M599.6,323.6h4.8v4.8h-4.8z M608.5,328.3h4.8v4.8h-4.8z M617.2,333.2h4.8v4.8h-4.8z M625.8,338.4h4.8v4.8h-4.8z M634.2,343.8h4.8v4.8h-4.8z M642.6,349.4h4.8v4.8h-4.8z M650.7,355.2h4.8v4.8h-4.8z M658.8,361.2h4.8v4.8h-4.8z M666.7,367.4h4.8v4.8h-4.8z M674.4,373.7h4.8v4.8h-4.8z M682.0,380.2h4.8v4.8h-4.8z M689.5,386.9h4.8v4.8h-4.8z M696.8,393.8h4.8v4.8h-4.8z M704.0,400.8h4.8v4.8h-4.8z M711.0,407.9h4.8v4.8h-4.8z M717.9,415.2h4.8v4.8h-4.8z M724.6,422.6h4.8v4.8h-4.8z M731.2,430.2h4.8v4.8h-4.8z M737.7,437.9h4.8v4.8h-4.8z M743.4,444.9h4.8v4.8h-4.8z M749.3,452.4h4.8v4.8h-4.8z M755.3,460.4h4.8v4.8h-4.8z M761.2,468.6h4.8v4.8h-4.8z M766.1,475.5h4.8v4.8h-4.8z M771.4,483.4h4.8v4.8h-4.8z M775.8,490.1h4.8v4.8h-4.8z M781.4,499.0h4.8v4.8h-4.8z M786.1,506.6h4.8v4.8h-4.8z M790.9,514.8h4.8v4.8h-4.8z M795.9,523.4h4.8v4.8h-4.8z M800.4,531.2h4.8v4.8h-4.8z M805.0,539.5h4.8v4.8h-4.8z M809.5,547.8h4.8v4.8h-4.8z M814.0,556.1h4.8v4.8h-4.8z M818.2,564.1h4.8v4.8h-4.8z M822.4,572.0h4.8v4.8h-4.8z M827.7,582.2h4.8v4.8h-4.8z M832.6,591.5h4.8v4.8h-4.8z M836.7,599.5h4.8v4.8h-4.8z M841.1,607.9h4.8v4.8h-4.8z M846.2,617.6h4.8v4.8h-4.8z M850.2,625.1h4.8v4.8h-4.8z M854.9,634.0h4.8v4.8h-4.8z M859.9,643.2h4.8v4.8h-4.8z M864.5,651.5h4.8v4.8h-4.8z M869.4,660.2h4.8v4.8h-4.8z M874.4,668.9h4.8v4.8h-4.8z M879.2,677.1h4.8v4.8h-4.8z M884.7,686.1h4.8v4.8h-4.8z M890.1,694.6h4.8v4.8h-4.8z M895.0,702.2h4.8v4.8h-4.8z M900.6,710.5h4.8v4.8h-4.8z M905.8,718.0h4.8v4.8h-4.8z M911.8,726.1h4.8v4.8h-4.8z M918.3,734.4h4.8v4.8h-4.8z M924.1,741.4h4.8v4.8h-4.8z M930.1,748.0h4.8v4.8h-4.8z M936.8,754.8h4.8v4.8h-4.8z M943.0,760.5h4.8v4.8h-4.8z M951.1,767.1h4.8v4.8h-4.8z M958.0,772.0h4.8v4.8h-4.8z M965.7,776.7h4.8v4.8h-4.8z M974.6,781.3h4.8v4.8h-4.8z M984.9,785.6h4.8v4.8h-4.8z M995.9,788.9h4.8v4.8h-4.8z M1007.1,790.9h4.8v4.8h-4.8z M1019.3,791.5h4.8v4.8h-4.8z M1029.9,790.4h4.8v4.8h-4.8z M1040.3,788.1h4.8v4.8h-4.8z M1050.6,784.7h4.8v4.8h-4.8z M1058.5,781.6h4.8v4.8h-4.8z M1068.3,777.2h4.8v4.8h-4.8z M1076.6,773.2h4.8v4.8h-4.8z M1085.8,768.7h4.8v4.8h-4.8z M1094.1,764.6h4.8v4.8h-4.8z M1104.2,759.8h4.8v4.8h-4.8z M1112.5,756.1h4.8v4.8h-4.8z M1120.8,752.4h4.8v4.8h-4.8z M1129.5,748.5h4.8v4.8h-4.8z M1138.2,744.6h4.8v4.8h-4.8z M1146.3,740.9h4.8v4.8h-4.8z M1155.7,736.3h4.8v4.8h-4.8z M1163.6,732.2h4.8v4.8h-4.8z M1171.4,727.9h4.8v4.8h-4.8z M1179.5,723.2h4.8v4.8h-4.8z M1187.4,718.2h4.8v4.8h-4.8z M1195.3,712.9h4.8v4.8h-4.8z M1202.6,707.8h4.8v4.8h-4.8z M1209.9,702.6h4.8v4.8h-4.8z M1217.1,697.2h4.8v4.8h-4.8z M1223.8,691.9h4.8v4.8h-4.8z M1230.8,686.3h4.8v4.8h-4.8z M1237.8,680.6h4.8v4.8h-4.8z M1244.3,675.1h4.8v4.8h-4.8z M1251.2,669.2h4.8v4.8h-4.8z M1258.1,663.3h4.8v4.8h-4.8z M1264.5,657.7h4.8v4.8h-4.8z M1270.9,652.1h4.8v4.8h-4.8z M1277.7,646.1h4.8v4.8h-4.8z M1284.4,640.1h4.8v4.8h-4.8z M1290.8,634.5h4.8v4.8h-4.8z M1297.2,628.9h4.8v4.8h-4.8z M1304.4,622.7h4.8v4.8h-4.8z M1311.2,616.9h4.8v4.8h-4.8z M1318.1,611.2h4.8v4.8h-4.8z M1324.6,605.9h4.8v4.8h-4.8z M1331.2,600.6h4.8v4.8h-4.8z M1338.6,594.9h4.8v4.8h-4.8z M1345.7,589.6h4.8v4.8h-4.8z M1353.0,584.4h4.8v4.8h-4.8z M1360.3,579.3h4.8v4.8h-4.8z M1367.8,574.5h4.8v4.8h-4.8z M1375.3,569.8h4.8v4.8h-4.8z M1383.5,565.0h4.8v4.8h-4.8z M1391.4,560.7h4.8v4.8h-4.8z M1400.3,556.1h4.8v4.8h-4.8z M1408.5,552.1h4.8v4.8h-4.8z M1416.7,548.2h4.8v4.8h-4.8z M1424.4,544.5h4.8v4.8h-4.8z M1432.5,540.5h4.8v4.8h-4.8z M1440.5,536.3h4.8v4.8h-4.8z M1447.9,532.1h4.8v4.8h-4.8z M1456.8,526.6h4.8v4.8h-4.8z M1463.7,521.8h4.8v4.8h-4.8z M1471.0,516.6h4.8v4.8h-4.8z M1478.9,511.5h4.8v4.8h-4.8z M1487.3,507.1h4.8v4.8h-4.8z M1496.0,504.0h4.8v4.8h-4.8z" fill="#0063bf"/>
<path d="M296.0,277.5 L297.5,277.8 L299.4,278.1 L301.4,278.5 L302.7,278.7 M345.3,285.2 L347.3,285.5 L349.3,285.8 L351.2,286.1 L353.2,286.4 L355.2,286.7 L357.2,287.0 L359.2,287.3 L360.8,287.6 M403.0,295.3 L404.5,295.6 L406.5,296.1 L408.4,296.6 L410.4,297.0 L412.3,297.5 L414.2,298.0 L416.2,298.5 L417.2,298.8 M455.2,311.7 L456.8,312.4 L458.6,313.2 L460.5,314.0 L462.3,314.8 L464.1,315.7 L465.9,316.5 L467.6,317.3 M501.3,336.2 L502.7,337.1 L504.4,338.2 L506.1,339.3 L507.7,340.4 L509.4,341.5 L511.0,342.7 L512.4,343.6 M541.5,366.5 L542.8,367.7 L544.3,369.0 L545.8,370.3 L547.3,371.7 L548.7,373.0 L550.2,374.4 L550.8,374.9 M575.9,400.8 L577.1,402.2 L578.4,403.7 L579.7,405.2 L581.0,406.7 L582.3,408.2 L583.6,409.8 L584.2,410.5 M606.8,439.7 L607.7,441.0 L608.8,442.6 L610.0,444.2 L611.1,445.9 L612.3,447.5 L613.4,449.2 L614.3,450.5 M634.4,482.1 L635.2,483.5 L636.2,485.2 L637.2,486.9 L638.3,488.7 L639.3,490.4 L640.3,492.1 L641.1,493.5 M660.0,528.5 L660.8,530.2 L661.7,532.0 L662.7,533.7 L663.6,535.5 L664.5,537.3 L665.4,539.1 L666.3,540.9 L666.6,541.7 M684.1,578.5 L684.9,580.3 L685.8,582.1 L686.6,583.9 L687.4,585.7 L688.2,587.6 L689.1,589.4 L689.9,591.2 M705.9,627.9 L706.7,629.6 L707.4,631.5 L708.2,633.3 L709.0,635.1 L709.8,637.0 L710.6,638.8 L711.3,640.7 L711.5,641.0 M727.3,678.5 L728.1,680.2 L728.8,682.0 L729.6,683.8 L730.4,685.7 L731.2,687.5 L731.9,689.4 L732.7,691.2 L732.9,691.6 M749.0,728.9 L749.8,730.6 L750.6,732.4 L751.4,734.2 L752.2,736.1 L753.0,737.9 L753.8,739.7 L754.6,741.5 L754.8,741.9 M772.1,779.0 L772.9,780.5 L773.7,782.3 L774.6,784.1 L775.5,785.9 L776.4,787.6 L777.3,789.4 L778.2,791.2 L778.6,791.9 M797.9,826.8 L798.8,828.4 L799.8,830.1 L800.9,831.8 L801.9,833.5 L803.0,835.2 L804.1,836.9 L805.1,838.4 M827.3,869.5 L828.6,871.1 L829.9,872.6 L831.2,874.2 L832.5,875.7 L833.8,877.2 L835.1,878.8 L835.8,879.6 M862.7,906.6 L864.0,907.7 L865.5,909.0 L867.1,910.3 L868.6,911.6 L870.2,912.9 L871.8,914.1 L873.0,915.1 M906.5,936.6 L908.2,937.5 L909.9,938.3 L911.7,939.2 L913.5,940.0 L915.3,940.8 L917.1,941.6 L918.9,942.3 L919.6,942.6 M960.6,954.7 L962.3,955.0 L964.3,955.4 L966.2,955.7 L968.2,956.1 L970.2,956.4 L972.1,956.7 L974.1,957.0 L975.9,957.3 M1020.7,961.0 L1022.3,961.1 L1024.3,961.1 L1026.4,961.2 L1028.4,961.3 L1030.4,961.3 L1032.5,961.4 L1034.5,961.4 L1036.5,961.4 L1036.8,961.4 M1078.3,961.6 L1080.0,961.6 L1082.0,961.5 L1084.0,961.5 L1086.0,961.5 L1088.0,961.5 L1090.0,961.4 L1091.4,961.4 M1134.3,959.6 L1136.2,959.5 L1138.2,959.3 L1140.2,959.2 L1142.1,959.0 L1144.1,958.8 L1146.1,958.7 L1148.1,958.5 L1150.1,958.3 L1151.2,958.2 M1196.2,951.5 L1197.9,951.1 L1199.9,950.7 L1201.9,950.3 L1203.8,949.9 L1205.8,949.5 L1207.7,949.0 L1209.6,948.6 L1210.9,948.3 M1250.9,936.2 L1252.5,935.6 L1254.4,934.9 L1256.2,934.2 L1258.1,933.5 L1259.9,932.8 L1261.8,932.0 L1263.6,931.3 L1264.3,931.0 M1298.8,913.7 L1300.4,912.8 L1302.1,911.7 L1303.8,910.7 L1305.5,909.7 L1307.2,908.7 L1308.9,907.6 L1309.8,907.1 M1340.5,886.7 L1341.9,885.7 L1343.6,884.6 L1345.2,883.4 L1346.9,882.3 L1348.5,881.1 L1350.2,880.0 L1351.3,879.2 M1380.8,859.1 L1382.3,858.0 L1384.0,856.9 L1385.7,855.8 L1387.3,854.7 L1389.0,853.5 L1390.7,852.4 L1390.8,852.3 M1418.3,832.5 L1419.8,831.3 L1421.3,830.1 L1422.9,828.8 L1424.4,827.6 L1425.9,826.3 L1427.4,825.1 L1427.5,825.0 M1451.6,801.0 L1452.6,799.8 L1453.8,798.2 L1455.0,796.7 L1456.2,795.1 L1457.4,793.6 L1458.5,792.0 L1459.0,791.3 M1477.6,760.3 L1478.6,758.6 L1479.5,756.8 L1480.4,755.0 L1481.4,753.2 L1482.3,751.4 L1483.2,749.6 L1483.8,748.5 M1501.2,715.5 L1501.9,714.1 L1502.9,712.3 L1504.0,710.6 L1505.0,708.9 L1506.0,707.1 L1507.1,705.4 L1507.8,704.3 M1528.2,675.4 L1529.3,674.0 L1530.5,672.5 L1531.8,670.9 L1533.0,669.4 L1534.3,667.8 L1535.5,666.3 L1535.7,666.2 M1559.2,639.9 L1560.5,638.6 L1561.9,637.1 L1563.3,635.7 L1564.6,634.3 L1566.0,632.8 L1567.4,631.4 L1568.1,630.7 M1594.3,605.1 L1595.6,603.9 L1597.1,602.5 L1598.6,601.2 L1600.0,599.8 L1601.5,598.5 L1603.0,597.2 L1603.9,596.4 M1633.1,574.9 L1634.7,573.9 L1636.5,572.9 L1638.2,572.0 L1640.0,571.0" fill="none" stroke="#7030a0" stroke-width="6" stroke-linecap="round"/>
<path d="M320.6,279.2h4.8v5.6h-4.8z M380.0,288.4h4.8v5.6h-4.8z M434.3,301.9h4.8v5.6h-4.8z M482.3,323.4h4.8v5.6h-4.8z M525.1,352.1h4.8v5.6h-4.8z M560.9,384.5h4.8v5.6h-4.8z M593.1,421.7h4.8v5.6h-4.8z M622.0,463.1h4.8v5.6h-4.8z M647.7,506.9h4.8v5.6h-4.8z M673.3,557.5h4.8v5.6h-4.8z M695.3,606.2h4.8v5.6h-4.8z M716.9,656.7h4.8v5.6h-4.8z M738.4,707.2h4.8v5.6h-4.8z M760.8,757.4h4.8v5.6h-4.8z M785.6,807.0h4.8v5.6h-4.8z M813.4,851.5h4.8v5.6h-4.8z M846.1,890.5h4.8v5.6h-4.8z M886.0,923.3h4.8v5.6h-4.8z M936.4,946.6h4.8v5.6h-4.8z M995.1,956.8h4.8v5.6h-4.8z M1056.9,958.8h4.8v5.6h-4.8z M1107.5,958.1h4.8v5.6h-4.8z M1172.4,952.4h4.8v5.6h-4.8z M1228.9,940.0h4.8v5.6h-4.8z M1280.1,919.7h4.8v5.6h-4.8z M1322.5,894.5h4.8v5.6h-4.8z M1364.0,866.0h4.8v5.6h-4.8z M1402.3,839.9h4.8v5.6h-4.8z M1437.3,811.0h4.8v5.6h-4.8z M1465.9,774.3h4.8v5.6h-4.8z M1489.9,729.1h4.8v5.6h-4.8z M1515.5,686.4h4.8v5.6h-4.8z M1544.2,650.7h4.8v5.6h-4.8z M1578.4,615.2h4.8v5.6h-4.8z M1615.7,582.2h4.8v5.6h-4.8z" fill="#7030a0"/>
</g>
<rect x="1597" y="14" width="852" height="515" fill="#fefefe"/>
<line x1="1692" y1="68.2" x2="1802" y2="68.2" stroke="#00b050" stroke-width="9.5" stroke-linecap="round"/>
<text x="1813.5" y="81.1" font-size="44.5" textLength="482.0" lengthAdjust="spacingAndGlyphs" fill="#111">Gly. u2, 20 mPas, st0.063</text>
<line x1="1690" y1="152.3" x2="1804" y2="152.3" stroke="#000000" stroke-width="6" stroke-linecap="butt" stroke-dasharray="49 19.5"/>
<text x="1813.5" y="165.3" font-size="44.5" textLength="506.3" lengthAdjust="spacingAndGlyphs" fill="#111">Gly. u10, 20 mPas, st0.063</text>
<line x1="1689.5" y1="237.0" x2="1804" y2="237.0" stroke="#ff0000" stroke-width="7.5" stroke-linecap="butt" stroke-dasharray="25.2 18.4"/>
<text x="1813.5" y="250.0" font-size="44.5" textLength="544.1" lengthAdjust="spacingAndGlyphs" fill="#111">Coat, u0.5, 20 mPas, st0.025</text>
<line x1="1689.5" y1="320.0" x2="1804" y2="320.0" stroke="#8f8f8f" stroke-width="6" stroke-linecap="butt" stroke-dasharray="18.6 6.2"/>
<text x="1813.5" y="334.6" font-size="44.5" textLength="499.0" lengthAdjust="spacingAndGlyphs" fill="#111">Coat, u5, 20mpas, st0.025</text>
<line x1="1690" y1="405.0" x2="1796.5" y2="405.0" stroke="#0063bf" stroke-width="6" stroke-linecap="butt" stroke-dasharray="6.2 6.2"/>
<text x="1813.5" y="418.9" font-size="44.5" textLength="513.7" lengthAdjust="spacingAndGlyphs" fill="#111">Coat, u10, 20mpas,st0.025</text>
<line x1="1690" y1="490.0" x2="1783" y2="490.0" stroke="#7030a0" stroke-width="6" stroke-linecap="butt" stroke-dasharray="24.2 19.4 6.4 19.4"/>
<text x="1813.5" y="503.0" font-size="44.5" textLength="523.4" lengthAdjust="spacingAndGlyphs" fill="#111">Coat, u20, 20mpas, st0.025</text>
<text x="256.3" y="224" font-size="39" text-anchor="end" textLength="68.0" lengthAdjust="spacingAndGlyphs" fill="#111">100</text>
<text x="258.3" y="284" font-size="39" text-anchor="end" textLength="46.5" lengthAdjust="spacingAndGlyphs" fill="#111">90</text>
<text x="258.3" y="342" font-size="39" text-anchor="end" textLength="46.5" lengthAdjust="spacingAndGlyphs" fill="#111">80</text>
<text x="258.3" y="400" font-size="39" text-anchor="end" textLength="46.5" lengthAdjust="spacingAndGlyphs" fill="#111">70</text>
<text x="258.3" y="458" font-size="39" text-anchor="end" textLength="46.5" lengthAdjust="spacingAndGlyphs" fill="#111">60</text>
<text x="258.3" y="516" font-size="39" text-anchor="end" textLength="46.5" lengthAdjust="spacingAndGlyphs" fill="#111">50</text>
<text x="258.3" y="574" font-size="39" text-anchor="end" textLength="46.5" lengthAdjust="spacingAndGlyphs" fill="#111">40</text>
<text x="258.3" y="634" font-size="39" text-anchor="end" textLength="46.5" lengthAdjust="spacingAndGlyphs" fill="#111">30</text>
<text x="258.3" y="692" font-size="39" text-anchor="end" textLength="46.5" lengthAdjust="spacingAndGlyphs" fill="#111">20</text>
<text x="258.3" y="750" font-size="39" text-anchor="end" textLength="46.5" lengthAdjust="spacingAndGlyphs" fill="#111">10</text>
<text x="256.3" y="808" font-size="39" text-anchor="end" textLength="23.2" lengthAdjust="spacingAndGlyphs" fill="#111">0</text>
<text x="258.3" y="866" font-size="39" text-anchor="end" textLength="60.0" lengthAdjust="spacingAndGlyphs" fill="#111">-10</text>
<text x="258.3" y="926" font-size="39" text-anchor="end" textLength="60.0" lengthAdjust="spacingAndGlyphs" fill="#111">-20</text>
<text x="258.3" y="984" font-size="39" text-anchor="end" textLength="60.0" lengthAdjust="spacingAndGlyphs" fill="#111">-30</text>
<text x="258.3" y="1042" font-size="39" text-anchor="end" textLength="60.0" lengthAdjust="spacingAndGlyphs" fill="#111">-40</text>
<text x="296.0" y="1097.5" font-size="39" text-anchor="middle" textLength="99" lengthAdjust="spacingAndGlyphs" fill="#111">0.001</text>
<text x="728.5" y="1097.5" font-size="39" text-anchor="middle" textLength="99" lengthAdjust="spacingAndGlyphs" fill="#111">0.005</text>
<text x="1161.0" y="1097.5" font-size="39" text-anchor="middle" textLength="99" lengthAdjust="spacingAndGlyphs" fill="#111">0.050</text>
<text x="1595.5" y="1097.5" font-size="39" text-anchor="middle" textLength="99" lengthAdjust="spacingAndGlyphs" fill="#111">0.500</text>
<text x="1009.7" y="1169.4" font-size="46" font-weight="bold" text-anchor="middle" textLength="123" lengthAdjust="spacingAndGlyphs">t (ms)</text>
<text transform="translate(143.3,610.5) rotate(-90)" x="0" y="0" font-size="46" font-weight="bold" text-anchor="middle" textLength="532" lengthAdjust="spacingAndGlyphs">Angle to horizontal (deg)</text>
</svg></div></body></html>
